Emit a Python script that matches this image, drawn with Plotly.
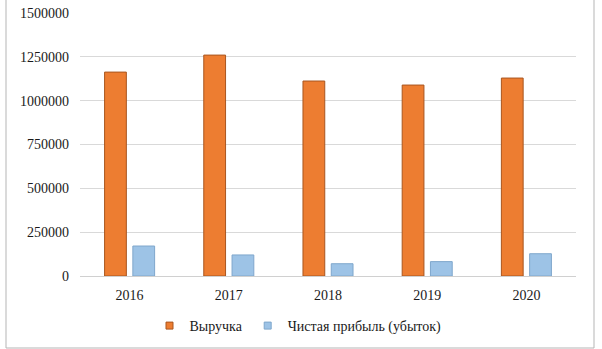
import plotly.graph_objects as go

years = ["2016", "2017", "2018", "2019", "2020"]
revenue = [1163000, 1260000, 1112000, 1089000, 1129000]
profit = [171000, 120000, 70000, 82000, 127000]
tick_vals = [0, 250000, 500000, 750000, 1000000, 1250000, 1500000]
tick_text = ["0", "250000", "500000", "750000", "1000000", "1250000", "1500000"]
series_names = ["Выручка", "Чистая прибыль (убыток)"]
colors = ["#ED7D31", "#9DC3E6"]
edge_colors = ["#A9561F", "#7FA7CC"]

FAM = "Liberation Serif, serif"
font = dict(family=FAM, size=14, color="#1a1a1a")

fig = go.Figure()
for name, vals, c, ec in zip(series_names, [revenue, profit], colors, edge_colors):
    fig.add_trace(go.Bar(name=name, x=years, y=vals, showlegend=False, legendgroup=name,
                         marker=dict(color=c, line=dict(color=ec, width=1))))
for name, c, ec in zip(series_names, colors, edge_colors):
    fig.add_trace(go.Scatter(name=name, x=[None], y=[None], mode="markers", legendgroup=name,
                             marker=dict(symbol="square", size=7, color=c,
                                         line=dict(color=ec, width=1)),
                             hoverinfo="skip"))

W, H = 602, 349
L, R, T, B = 80, 26, 13, 73
pw, ph = W - L - R, H - T - B

def px(x):
    return (x - L) / pw

def py(y):
    return (H - B - y) / ph

fig.update_layout(
    width=W, height=H,
    margin=dict(l=L, r=R, t=T, b=B, autoexpand=False),
    paper_bgcolor="white", plot_bgcolor="white",
    barmode="group", bargap=0.43, bargroupgap=0.23,
    font=font,
    showlegend=True,
    legend=dict(orientation="h", xref="container", yref="container",
                x=298 / W, xanchor="center", y=(H - 326) / H, yanchor="middle",
                font=dict(family=FAM, size=14, color="#1a1a1a"),
                itemwidth=30, tracegroupgap=0, bgcolor="rgba(0,0,0,0)"),
    xaxis=dict(showgrid=False, showline=True, linecolor="#d0d0d0", linewidth=1,
               ticks="", ticklabelstandoff=6, tickfont=font, automargin=False),
    yaxis=dict(range=[0, 1500000], tickvals=tick_vals, ticktext=tick_text,
               showgrid=True, gridcolor="#d9d9d9", gridwidth=1, zeroline=False,
               showline=False, ticks="", ticklabelstandoff=10, tickfont=font,
               automargin=False),
    shapes=[dict(type="rect", xref="paper", yref="paper",
                 x0=px(6), x1=px(594), y0=py(348), y1=py(-3),
                 line=dict(color="#b5b5b5", width=1), fillcolor="rgba(0,0,0,0)", layer="below")],
)

fig.write_html("out.html", config={"displayModeBar": False},
               post_script="document.body.style.margin='0';document.body.style.overflow='hidden';")
